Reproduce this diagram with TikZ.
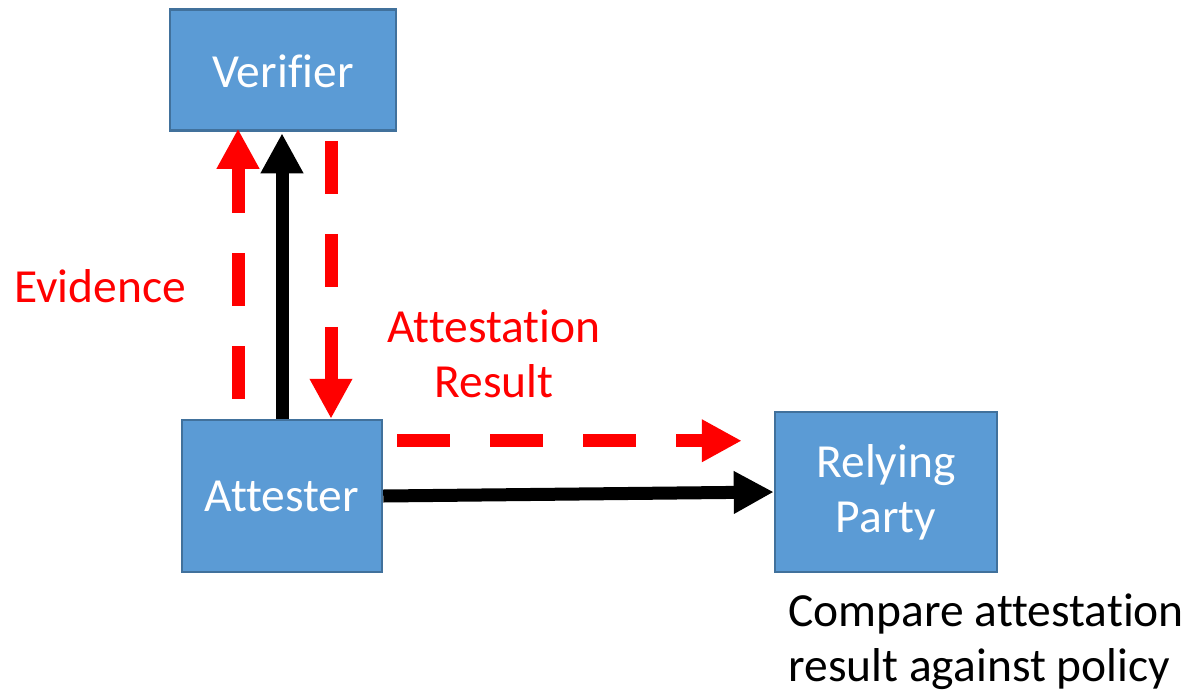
\documentclass[tikz,border=0pt]{standalone}
\usepackage{fontspec}
\setmainfont{Carlito}[Ligatures={NoCommon}]
\usetikzlibrary{arrows.meta}
\definecolor{boxfill}{HTML}{5B9BD5}
\definecolor{boxline}{HTML}{41719C}
\definecolor{myred}{HTML}{FF0000}
\begin{document}
\begin{tikzpicture}[x=1pt,y=-1pt,
  box/.style={draw=boxline, line width=2.5pt, fill=boxfill, text=white, align=center, inner sep=0pt},
  lbl/.style={font=\fontsize{47.5}{55}\selectfont},
  bigtip/.style={-{Triangle[length=40pt,width=40pt]}},
  solidarrow/.style={bigtip, line width=13pt, draw=black},
  dasharrow/.style={bigtip, line width=13pt, draw=myred, dash pattern=on 53pt off 40pt}
]
\useasboundingbox (0,0) rectangle (1192,694);
\node[box, lbl, minimum width=226pt, minimum height=121pt, text height=36pt] (ver) at (283,70) {Verifier};
\node[box, lbl, minimum width=200pt, minimum height=152pt] (att) at (282,496) {Attester};
\node[box, lbl, minimum width=222pt, minimum height=160pt] (rel) at (886,492) {Relying\\Party};

\draw[dasharrow] ([xshift=-44pt,yshift=20pt]att.north) -- ([xshift=-45pt,yshift=3pt]ver.south);
\draw[solidarrow] (att.north) -- ([xshift=-1pt,yshift=-1.5pt]ver.south);
\draw[dasharrow] ([xshift=48pt,yshift=-9pt]ver.south) -- ([xshift=49pt]att.north);
\draw[dasharrow] ([xshift=14pt,yshift=-22pt]att.north east) -- ([xshift=-32pt,yshift=-30pt]rel.north west);
\draw[solidarrow] (att.east) -- (rel.west);

\node[lbl, text=myred] (ev) at (100,286) {Evidence};
\node[lbl, text=myred, align=center] (ar) at (494,354) {Attestation\\Result};
\node[lbl, align=left, anchor=west] (cmp) at (785,642) {Compare attestation\\result against policy};
\end{tikzpicture}
\end{document}
